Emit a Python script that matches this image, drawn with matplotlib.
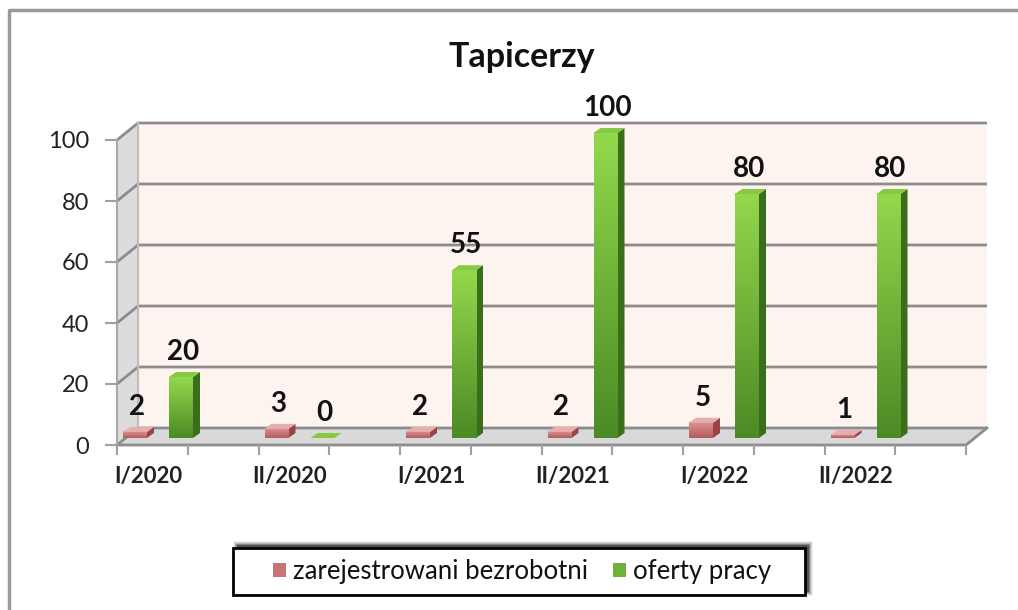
import matplotlib.pyplot as plt
import numpy as np
from matplotlib.patches import Polygon, Rectangle
from matplotlib.lines import Line2D
from matplotlib.colors import LinearSegmentedColormap

plt.rcParams['font.family'] = ['Lato', 'DejaVu Sans']

okresy = ['I/2020', 'II/2020', 'I/2021', 'II/2021', 'I/2022', 'II/2022']
bezrobotni = [2, 3, 2, 2, 5, 1]
oferty = [20, 0, 55, 100, 80, 80]
serie = ['zarejestrowani bezrobotni', 'oferty pracy']
yticks = [0, 20, 40, 60, 80, 100]

# kolory: przod (gora, dol), bok, wierzch, legenda
kolory = {
    'red': ('#dc9393', '#b45c5c', '#9a4545', '#e7aeae', '#c97474'),
    'green': ('#93d84c', '#4c8a25', '#3b6e1a', '#86c942', '#6db33a'),
}

W, H = 1018, 610
fig = plt.figure(figsize=(W / 100, H / 100), dpi=100)
ax = fig.add_axes([117 / W, 165 / H, 849 / W, 305 / H])
x0 = -31 / 141.5
x1 = x0 + 6
for s in ax.spines.values():
    s.set_visible(False)


def px(dx, dy):
    # piksele -> jednostki danych
    return dx * 6 / 849, dy * 100 / 305


gc = '#8c8c8c'
bx, by = px(21, 17)

# sciana boczna, tylna, podloga
ax.add_patch(Polygon([(x0, 0), (x0, 100), (x0 + bx, 100 + by), (x0 + bx, by)],
                     facecolor='#dcdcdc', edgecolor='none', zorder=0, clip_on=False))
ax.add_patch(Rectangle((x0 + bx, by), 6, 100, facecolor='#fdf4ef',
                       edgecolor='none', zorder=0, clip_on=False))
ax.add_patch(Polygon([(x0, 0), (x1, 0), (x1 + bx, by), (x0 + bx, by)],
                     facecolor='#d9d9d9', edgecolor='none', zorder=0, clip_on=False))

for v in yticks:
    ax.plot([x0, x0 + bx, x1 + bx], [v, v + by, v + by], color=gc, lw=2,
            zorder=1, clip_on=False, solid_capstyle='butt')
ax.plot([x0, x1, x1 + bx], [0, 0, by], color=gc, lw=2, zorder=1, clip_on=False)
ax.plot([x0, x0], [0, 100], color='#a8a8a8', lw=1.5, zorder=1, clip_on=False)
ax.plot([x0 + bx, x0 + bx], [by, 100 + by], color='#bdbdbd', lw=1.5, zorder=1, clip_on=False)

# slupki
ox, oy = px(10, 7)
bw = px(24, 0)[0]
sh = px(23, 0)[0]
ddx, ddy = px(7, 5)
lab_dy = px(0, 17)[1]
pos = np.arange(len(okresy))

handles = []
for vals, off, key, name in [(bezrobotni, -sh, 'red', serie[0]),
                             (oferty, sh, 'green', serie[1])]:
    top_c, bot_c, side_c, lid_c, solid = kolory[key]
    xs = pos + ox + off
    bars = ax.bar(xs, vals, width=bw, bottom=oy, color=solid, zorder=3,
                  clip_on=False, label=name)
    handles.append(bars[0])
    cmap = LinearSegmentedColormap.from_list(key, [bot_c, top_c])
    grad = np.linspace(0, 1, 100).reshape(-1, 1)
    for xc, v in zip(xs, vals):
        l, r = xc - bw / 2, xc + bw / 2
        t = oy + v
        if v > 0:
            ax.imshow(grad, extent=[l, r, oy, t], origin='lower', cmap=cmap,
                      aspect='auto', zorder=3.1, clip_on=False, interpolation='bilinear')
            ax.add_patch(Polygon([(r, oy), (r + ddx, oy + ddy), (r + ddx, t + ddy), (r, t)],
                                 facecolor=side_c, edgecolor='none', zorder=3, clip_on=False))
        ax.add_patch(Polygon([(l, t), (r, t), (r + ddx, t + ddy), (l + ddx, t + ddy)],
                             facecolor=lid_c, edgecolor='none', zorder=3.2, clip_on=False))
        ax.text(xc + px(2, 0)[0], t + lab_dy, str(v), ha='center', va='baseline',
                fontsize=20, fontweight='bold', color='#111111', zorder=5)

ax.set_xlim(x0, x1)
ax.set_ylim(0, 100)

ax.set_yticks(yticks)
ax.tick_params(axis='y', length=9, width=1.5, color='#a0a0a0', labelsize=17,
               pad=11, labelcolor='#222222')
ax.set_xticks(pos, okresy)
ax.set_xticks(x0 + 0.5 * np.arange(13), minor=True)
ax.tick_params(axis='x', which='major', length=0, pad=15, labelsize=16,
               labelcolor='#222222')
for t in ax.get_xticklabels():
    t.set_fontweight('bold')
ax.tick_params(axis='x', which='minor', length=7, width=1.5, color='#a0a0a0')

# tytul
fig.text(522 / W, 1 - 57 / H, 'Tapicerzy', ha='center', va='center',
         fontsize=24.5, fontweight='bold', color='#111111')

# ramka wykresu (gora i lewa krawedz)
fig.lines.append(Line2D([9 / W, 9 / W, 1.0], [0.0, 1 - 10 / H, 1 - 10 / H],
                        transform=fig.transFigure, color='#9a9a9a', lw=2.5, zorder=0))

# legenda z cieniem
lx, ly, lw_, lh = 233, 15, 572, 47
for i, a in enumerate([0.06, 0.1, 0.16, 0.25, 0.4]):
    d = 8 - i * 1.8
    fig.patches.append(Rectangle(((lx + 4 - d / 2) / W, (ly + 3 - d / 2) / H),
                                 (lw_ + d) / W, (lh + d) / H, transform=fig.transFigure,
                                 facecolor='black', edgecolor='none', alpha=a, zorder=1))
fig.patches.append(Rectangle((lx / W, ly / H), lw_ / W, lh / H, transform=fig.transFigure,
                             facecolor='white', edgecolor='black', lw=2, zorder=2))
leg = fig.legend(handles, serie, loc='center', bbox_to_anchor=(522 / W, (ly + lh / 2) / H),
                 ncol=2, frameon=False, fontsize=18.5, handlelength=0.5, handleheight=0.5,
                 handletextpad=0.25, columnspacing=1.0, labelcolor='#111111')
leg.set_zorder(3)

fig.savefig('out.png', dpi=100)
